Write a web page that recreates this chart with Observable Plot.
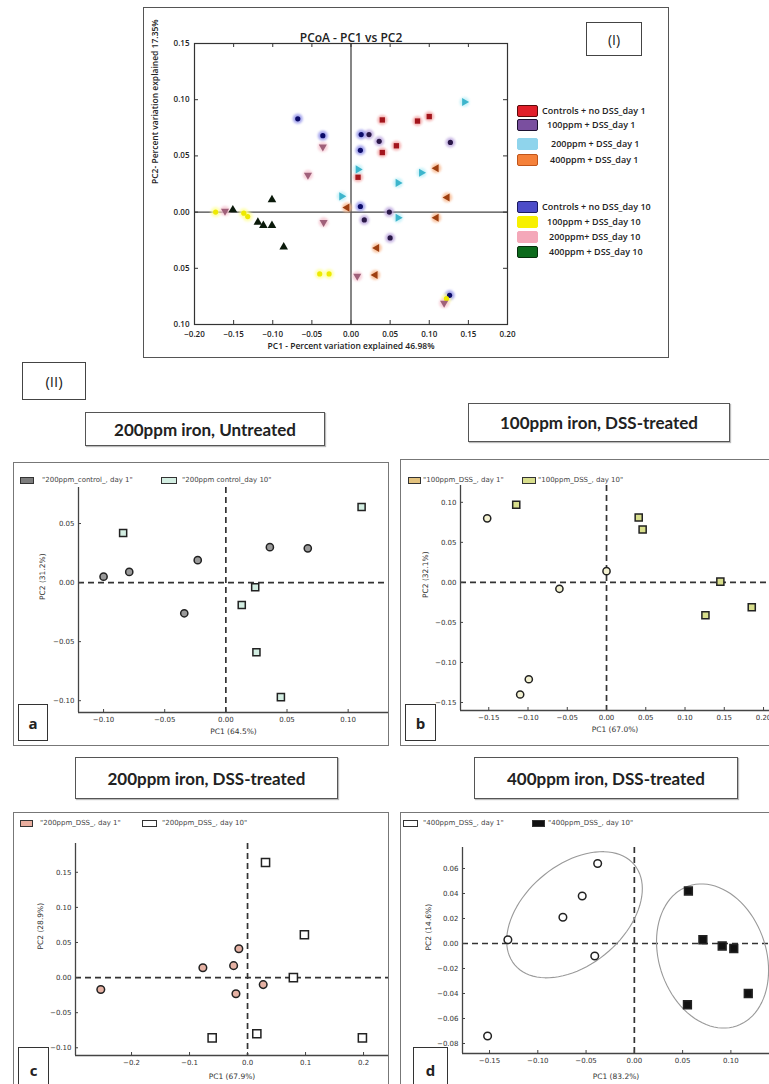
<!DOCTYPE html>
<html>
<head>
<meta charset="utf-8">
<script src="https://cdn.jsdelivr.net/npm/d3@7"></script>
<script src="https://cdn.jsdelivr.net/npm/@observablehq/plot@0.6"></script>
<style>
html,body{margin:0;padding:0;background:#fff;}
body{position:relative;width:769px;height:1084px;overflow:hidden;font-family:"Open Sans",sans-serif;}
.abs{position:absolute;box-sizing:border-box;}
.plot svg{display:block;max-width:none !important;background:transparent !important;overflow:visible;}
.halo{filter:blur(0.8px);}
</style>
</head>
<body>
<script>
// ================= DATA =================
// ---- Panel (I): PCoA PC1 vs PC2 ----
const pcoaTitle = "PCoA - PC1 vs PC2";
const pcoaXLabel = "PC1 - Percent variation explained 46.98%";
const pcoaYLabel = "PC2- Percent variation explained 17.35%";
const pcoaXTicks = [-0.20,-0.15,-0.10,-0.05,0.00,0.05,0.10,0.15,0.20];
const pcoaYTicks = [-0.10,-0.05,0.00,0.05,0.10,0.15];
const pcoaGroupLabels = [
  "Controls + no DSS_day 1","100ppm + DSS_day 1","200ppm + DSS_day 1","400ppm + DSS_day 1",
  "Controls + no DSS_day 10","100ppm + DSS_day 10","200ppm+ DSS_day 10","400ppm + DSS_day 10"
];
const ctrlDay1   = [[0.040,0.082],[0.058,0.059],[0.085,0.081],[0.100,0.085],[0.040,0.053],[0.009,0.031]];
const fe100Day1  = [[0.023,0.069],[0.036,0.063],[0.049,0.000],[0.017,-0.007],[0.050,-0.023],[0.127,0.062]];
const fe200Day1  = [[0.145,0.098],[0.009,0.038],[0.090,0.035],[0.060,0.026],[-0.012,0.014],[0.060,-0.005]];
const fe400Day1  = [[0.109,0.039],[0.123,0.013],[-0.005,0.004],[0.109,-0.005],[0.033,-0.032],[0.031,-0.056]];
const ctrlDay10  = [[-0.068,0.083],[-0.036,0.068],[0.013,0.069],[0.012,0.055],[0.012,0.005],[0.126,-0.074]];
const fe100Day10 = [[-0.040,-0.055],[-0.028,-0.055],[-0.173,0.000],[-0.137,-0.001],[-0.132,-0.004],[0.122,-0.077]];
const fe200Day10 = [[-0.036,0.058],[-0.055,0.033],[-0.035,-0.009],[0.008,-0.057],[-0.161,0.001],[0.119,-0.081]];
const fe400Day10 = [[-0.101,0.011],[-0.151,0.002],[-0.119,-0.009],[-0.112,-0.012],[-0.101,-0.012],[-0.086,-0.031]];

// ---- Panel a ----
const aTitle = "200ppm iron, Untreated";
const aLegend = ['"200ppm_control_, day 1"', '"200ppm control_day 10"'];
const aDay1  = [[-0.100,0.005],[-0.079,0.009],[-0.023,0.019],[-0.034,-0.026],[0.036,0.030],[0.067,0.029]];
const aDay10 = [[-0.084,0.042],[0.111,0.064],[0.024,-0.004],[0.013,-0.019],[0.025,-0.059],[0.045,-0.097]];
const aXTicks = [-0.10,-0.05,0.00,0.05,0.10];
const aYTicks = [-0.10,-0.05,0.00,0.05];
const aXLabel = "PC1 (64.5%)", aYLabel = "PC2 (31.2%)";

// ---- Panel b ----
const bTitle = "100ppm iron, DSS-treated";
const bLegend = ['"100ppm_DSS_, day 1"', '"100ppm_DSS_, day 10"'];
const bDay1  = [[-0.152,0.080],[-0.060,-0.008],[0.000,0.014],[-0.099,-0.121],[-0.110,-0.140]];
const bDay10 = [[-0.115,0.097],[0.041,0.081],[0.046,0.066],[0.145,0.001],[0.126,-0.041],[0.185,-0.031]];
const bXTicks = [-0.15,-0.10,-0.05,0.00,0.05,0.10,0.15,0.20];
const bYTicks = [-0.15,-0.10,-0.05,0.00,0.05,0.10];
const bXLabel = "PC1 (67.0%)", bYLabel = "PC2 (32.1%)";

// ---- Panel c ----
const cTitle = "200ppm iron, DSS-treated";
const cLegend = ['"200ppm_DSS_, day 1"', '"200ppm_DSS_, day 10"'];
const cDay1  = [[-0.253,-0.017],[-0.077,0.014],[-0.024,0.017],[-0.015,0.041],[-0.020,-0.023],[0.027,-0.010]];
const cDay10 = [[0.031,0.164],[0.098,0.061],[0.079,0.000],[-0.061,-0.086],[0.016,-0.080],[0.198,-0.086]];
const cXTicks = [-0.2,-0.1,0.0,0.1,0.2];
const cYTicks = [-0.10,-0.05,0.00,0.05,0.10,0.15];
const cXLabel = "PC1 (67.9%)", cYLabel = "PC2 (28.9%)";

// ---- Panel d ----
const dTitle = "400ppm iron, DSS-treated";
const dLegend = ['"400ppm_DSS_, day 1"', '"400ppm_DSS_, day 10"'];
const dDay1  = [[-0.131,0.003],[-0.074,0.021],[-0.041,-0.010],[-0.152,-0.074],[-0.038,0.064],[-0.054,0.038]];
const dDay10 = [[0.056,0.042],[0.071,0.003],[0.091,-0.002],[0.103,-0.004],[0.118,-0.040],[0.055,-0.049]];
const dXTicks = [-0.15,-0.10,-0.05,0.00,0.05,0.10];
const dYTicks = [-0.08,-0.06,-0.04,-0.02,0.00,0.02,0.04,0.06];
const dXLabel = "PC1 (83.2%)", dYLabel = "PC2 (14.6%)";
const dEllipseCenters = [[-0.062,0.023],[0.081,-0.010]];

// ================= HELPERS =================
function div(left, top, w, h, css = {}, html = "") {
  const d = document.createElement("div");
  d.className = "abs";
  d.style.left = left + "px"; d.style.top = top + "px";
  if (w != null) d.style.width = w + "px";
  if (h != null) d.style.height = h + "px";
  Object.assign(d.style, css);
  d.innerHTML = html;
  document.body.appendChild(d);
  return d;
}
const fmt = (k, sign = true) => d => ((d < 0 && sign) ? "\u2212" : "") + Math.abs(d).toFixed(k);
const toPts = arr => arr.map(([x, y]) => ({x, y}));

function tri(angleDeg) {
  return {draw(ctx, size) {
    const r = Math.sqrt(size / (3 * Math.sqrt(3) / 4));
    for (let i = 0; i < 3; i++) {
      const a = (angleDeg + i * 120) * Math.PI / 180;
      const x = r * Math.cos(a), y = r * Math.sin(a);
      if (i) ctx.lineTo(x, y); else ctx.moveTo(x, y);
    }
    ctx.closePath();
  }};
}
const triRight = tri(0), triLeft = tri(180), triDown = tri(90), triUp = tri(-90);

function place(svg, left, top, w, h) {
  const host = div(left, top, w, h);
  host.className = "abs plot";
  host.appendChild(svg);
}

// ================= PANEL (I) =================
div(143, 7, 526, 351, {border: "1.5px solid #555"});
div(586, 22, 56, 34, {border: "1.5px solid #444", display: "flex", alignItems: "center", justifyContent: "center", font: "500 14px 'Open Sans'", color: "#222"}, "(I)");

const pcoaSeries = [ctrlDay1, fe100Day1, fe200Day1, fe400Day1, ctrlDay10, fe100Day10, fe200Day10, fe400Day10];
const pcoaStyles = [
  {sym: "square",   r: 3.0, core: "#a3151c", halo: "#f2a0a0", swatch: "#e11f2a", border: "#5a0a0a"},
  {sym: "circle",   r: 2.6, core: "#2a1848", halo: "#b9a3dc", swatch: "#7a4f9f", border: "#1c1030"},
  {sym: triRight,   r: 3.0, core: "#3cb5cc", halo: "#bdeff7", swatch: "#8fd4ec", border: "#8fd4ec"},
  {sym: triLeft,    r: 3.0, core: "#9e3f10", halo: "#f8b689", swatch: "#f5813a", border: "#c0551a"},
  {sym: "circle",   r: 2.6, core: "#0c0c6a", halo: "#8e8ee8", swatch: "#4c4cc9", border: "#1a1a60"},
  {sym: "circle",   r: 2.6, core: "#eeea00", halo: "#ffff9a", swatch: "#f7f000", border: "#f7f000"},
  {sym: triDown,    r: 3.0, core: "#a0607a", halo: "#f5c3cf", swatch: "#f4a8b9", border: "#f4a8b9"},
  {sym: triUp,      r: 3.2, core: "#0b1a0b", halo: null,      swatch: "#0c6a1c", border: "#06300c"}
];
{
  const W = 526, H = 351, ml = 51, mr = 162, mt = 36, mb = 34;
  const fw = W - ml - mr, fh = H - mt - mb;
  const marks = [
    Plot.ruleX([0], {stroke: "#444", strokeWidth: 1.3}),
    Plot.ruleY([0], {stroke: "#444", strokeWidth: 1.3}),
    Plot.frame({stroke: "#333", strokeWidth: 1.2}),
    Plot.tickX(pcoaXTicks, {x: d => d, insetTop: fh - 4, stroke: "#333"}),
    Plot.tickX(pcoaXTicks, {x: d => d, insetBottom: fh - 4, stroke: "#333"}),
    Plot.tickY(pcoaYTicks, {y: d => d, insetRight: fw - 4, stroke: "#333"}),
    Plot.tickY(pcoaYTicks, {y: d => d, insetLeft: fw - 4, stroke: "#333"}),
    Plot.axisX({ticks: pcoaXTicks, tickSize: 0, tickPadding: 7, tickFormat: fmt(2), label: null, fontWeight: 600}),
    Plot.axisY({ticks: pcoaYTicks, tickSize: 0, tickPadding: 5, tickFormat: fmt(2, false), label: null, fontWeight: 600}),
    Plot.text([pcoaTitle], {text: d => d, frameAnchor: "top", dy: -10, fontSize: 12, fontWeight: 600, fill: "#222"}),
    Plot.text([pcoaXLabel], {text: d => d, frameAnchor: "bottom", dy: 24, fontSize: 8.5, fontWeight: 600, fill: "#222"}),
    Plot.text([pcoaYLabel], {text: d => d, frameAnchor: "left", dx: -39, rotate: -90, fontSize: 8.5, fontWeight: 600, fill: "#222"})
  ];
  pcoaSeries.forEach((s, i) => {
    const st = pcoaStyles[i];
    if (st.halo) marks.push(Plot.dot(toPts(s), {x: "x", y: "y", r: 5, fill: st.halo, fillOpacity: 0.75, className: "halo"}));
  });
  pcoaSeries.forEach((s, i) => {
    const st = pcoaStyles[i];
    marks.push(Plot.dot(toPts(s), {x: "x", y: "y", r: st.r, symbol: st.sym, fill: st.core}));
  });
  const svg = Plot.plot({
    width: W, height: H, marginLeft: ml, marginRight: mr, marginTop: mt, marginBottom: mb,
    x: {domain: [-0.2, 0.2]}, y: {domain: [-0.1, 0.15]},
    style: {fontFamily: "'Open Sans', sans-serif", fontSize: "8px", color: "#222"},
    marks
  });
  place(svg, 143, 7, W, H);

  // legend
  const rows = [111, 125, 144, 160, 207, 222, 237, 252];
  const indent = [0, 5, 9, 8, 0, 5, 7, 7];
  pcoaGroupLabels.forEach((lab, i) => {
    const st = pcoaStyles[i];
    div(517, rows[i] - 6, 21, 12, {background: st.swatch, border: "1.2px solid " + st.border, borderRadius: "2px"});
    div(542 + indent[i], rows[i] - 8, 130, 16, {font: "600 9px 'Open Sans'", color: "#222", lineHeight: "16px", whiteSpace: "nowrap"}, lab);
  });
}

// ================= (II) =================
div(22, 362, 64, 38, {border: "1.5px solid #444", display: "flex", alignItems: "center", justifyContent: "center", font: "500 15px 'Open Sans'", color: "#222"}, "(II)");

// ================= PANELS a-d =================
function titleBox(x, y, w, h, text) {
  div(x, y, w, h, {border: "1.5px solid #555", display: "flex", alignItems: "center", justifyContent: "center",
    font: "700 17px Lato", color: "#222", background: "#fff", boxShadow: "1px 1px 1px #bbb"}, text);
}
function legendRow(y, items) {
  items.forEach(it => {
    div(it.sx, y - 3, it.sw, 7, {background: it.fill, border: "1.5px solid #333"});
    div(it.tx, y - 7, 140, 14, {font: "7px 'DejaVu Sans'", color: "#444", lineHeight: "14px", whiteSpace: "nowrap"}, it.text);
  });
}
function letterBox(x, y, w, h, t) {
  div(x, y, w, h, {border: "1.5px solid #333", display: "flex", alignItems: "center", justifyContent: "center",
    font: "700 15px 'Open Sans'", color: "#222", background: "#fff"}, t);
}

function scatterPanel(cfg) {
  const fw = cfg.W - cfg.ml - cfg.mr, fh = cfg.H - cfg.mt - cfg.mb;
  const marks = [
    Plot.ruleX([0], {stroke: "#333", strokeWidth: 1.7, strokeDasharray: "6,4"}),
    Plot.ruleY([0], {stroke: "#333", strokeWidth: 1.7, strokeDasharray: "6,4"}),
    Plot.ruleX([cfg.xDomain[0]], {stroke: "#444", strokeWidth: 1.3}),
    Plot.ruleY([cfg.yDomain[0]], {stroke: "#444", strokeWidth: 1.3}),
    Plot.tickX(cfg.xTicks, {x: d => d, insetTop: fh - 3, stroke: "#444"}),
    Plot.tickY(cfg.yTicks, {y: d => d, insetRight: fw - 3, stroke: "#444"}),
    Plot.axisX({ticks: cfg.xTicks, tickSize: 0, tickPadding: 5, tickFormat: cfg.xFmt, label: null}),
    Plot.axisY({ticks: cfg.yTicks, tickSize: 0, tickPadding: 4, tickFormat: cfg.yFmt, label: null}),
    Plot.text([cfg.xLabel], {text: d => d, frameAnchor: "bottom", dy: cfg.xLabDy, fontSize: 7.5, fill: "#333"}),
    Plot.text([cfg.yLabel], {text: d => d, frameAnchor: "left", dx: -cfg.yLabDx, rotate: -90, fontSize: 7.5, fill: "#333"}),
    ...(cfg.extra ? cfg.extra(fw, fh) : []),
    Plot.dot(toPts(cfg.day1), {x: "x", y: "y", symbol: cfg.s1.symbol, r: cfg.s1.r, fill: cfg.s1.fill, stroke: "#222", strokeWidth: 1.5}),
    Plot.dot(toPts(cfg.day10), {x: "x", y: "y", symbol: cfg.s10.symbol, r: cfg.s10.r, fill: cfg.s10.fill, stroke: "#222", strokeWidth: 1.5})
  ];
  const svg = Plot.plot({
    width: cfg.W, height: cfg.H, marginLeft: cfg.ml, marginRight: cfg.mr, marginTop: cfg.mt, marginBottom: cfg.mb,
    x: {domain: cfg.xDomain}, y: {domain: cfg.yDomain},
    style: {fontFamily: "'DejaVu Sans', sans-serif", fontSize: "7px", color: "#333"},
    marks
  });
  place(svg, cfg.left, cfg.top, cfg.W, cfg.H);
}

// ---- a ----
div(13, 462, 376, 284, {border: "1.5px solid #777"});
titleBox(85, 412, 240, 34, aTitle);
legendRow(480, [
  {sx: 20, sw: 14, fill: "#7d7d7d", tx: 42, text: aLegend[0]},
  {sx: 161, sw: 16, fill: "#d3eee2", tx: 182, text: aLegend[1]}
]);
scatterPanel({left: 13, top: 462, W: 375, H: 283, ml: 65, mr: 0, mt: 25, mb: 33,
  xDomain: [-0.1205, 0.133], yDomain: [-0.110, 0.0805], xTicks: aXTicks, yTicks: aYTicks,
  xFmt: fmt(2), yFmt: fmt(2), xLabel: aXLabel, yLabel: aYLabel, xLabDy: 21, yLabDx: 36,
  day1: aDay1, day10: aDay10,
  s1: {symbol: "circle", r: 3.6, fill: "#9a9a9a"}, s10: {symbol: "square", r: 4, fill: "#d3eee2"}});
letterBox(18, 704, 30, 37, "a");

// ---- b ----
div(400, 459, 380, 287, {border: "1.5px solid #777"});
titleBox(468, 403, 262, 39, bTitle);
legendRow(480, [
  {sx: 408, sw: 13, fill: "#e3c27e", tx: 423, text: bLegend[0]},
  {sx: 522, sw: 14, fill: "#d8de8c", tx: 538, text: bLegend[1]}
]);
scatterPanel({left: 400, top: 459, W: 369, H: 286, ml: 60, mr: 0, mt: 26, mb: 35,
  xDomain: [-0.186, 0.2076], yDomain: [-0.16, 0.121], xTicks: bXTicks, yTicks: bYTicks,
  xFmt: fmt(2), yFmt: fmt(2), xLabel: bXLabel, yLabel: bYLabel, xLabDy: 21, yLabDx: 35,
  day1: bDay1, day10: bDay10,
  s1: {symbol: "circle", r: 3.6, fill: "#f4f2d2"}, s10: {symbol: "square", r: 4, fill: "#d8de8c"}});
letterBox(405, 704, 31, 37, "b");

// ---- c ----
div(13, 812, 376, 290, {border: "1.5px solid #777"});
titleBox(75, 757, 263, 42, cTitle);
legendRow(823, [
  {sx: 20, sw: 13, fill: "#e8ad9e", tx: 40, text: cLegend[0]},
  {sx: 142, sw: 15, fill: "#ffffff", tx: 162, text: cLegend[1]}
]);
scatterPanel({left: 13, top: 812, W: 375, H: 272, ml: 62, mr: 0, mt: 31, mb: 29,
  xDomain: [-0.2966, 0.243], yDomain: [-0.111, 0.191], xTicks: cXTicks, yTicks: cYTicks,
  xFmt: fmt(1), yFmt: fmt(2), xLabel: cXLabel, yLabel: cYLabel, xLabDy: 23, yLabDx: 35,
  day1: cDay1, day10: cDay10,
  s1: {symbol: "circle", r: 3.8, fill: "#e6b2a4"}, s10: {symbol: "square", r: 4.6, fill: "#ffffff"}});
letterBox(18, 1047, 31, 45, "c");

// ---- d ----
div(400, 812, 380, 290, {border: "1.5px solid #777"});
titleBox(474, 757, 264, 42, dTitle);
legendRow(823, [
  {sx: 403, sw: 15, fill: "#ffffff", tx: 423, text: dLegend[0]},
  {sx: 532, sw: 13, fill: "#111111", tx: 548, text: dLegend[1]}
]);
// ellipse geometry (screen pixels): semi-axes and tilt
const dEllipseShape = [{a: 78, b: 50, angle: 40}, {a: 74, b: 53.5, angle: -71}];
scatterPanel({left: 400, top: 812, W: 369, H: 272, ml: 62, mr: 0, mt: 35, mb: 31,
  xDomain: [-0.178, 0.140], yDomain: [-0.088, 0.0768], xTicks: dXTicks, yTicks: dYTicks,
  xFmt: fmt(2), yFmt: fmt(2), xLabel: dXLabel, yLabel: dYLabel, xLabDy: 25, yLabDx: 34,
  day1: dDay1, day10: dDay10,
  s1: {symbol: "circle", r: 3.8, fill: "#ffffff"}, s10: {symbol: "square", r: 4.4, fill: "#111111"},
  extra: (fw, fh) => {
    const kx = fw / (0.140 + 0.178), ky = fh / (0.0768 + 0.088);
    const pts = [];
    dEllipseCenters.forEach(([cx, cy], id) => {
      const {a, b, angle} = dEllipseShape[id];
      const th = angle * Math.PI / 180;
      for (let t = 0; t <= 360; t += 4) {
        const u = t * Math.PI / 180;
        const dx = a * Math.cos(u) * Math.cos(th) - b * Math.sin(u) * Math.sin(th);
        const dy = a * Math.cos(u) * Math.sin(th) + b * Math.sin(u) * Math.cos(th);
        pts.push({id, x: cx + dx / kx, y: cy + dy / ky});
      }
    });
    return [Plot.line(pts, {x: "x", y: "y", z: "id", stroke: "#999", strokeWidth: 1.1})];
  }});
letterBox(413, 1047, 35, 45, "d");
</script>
</body>
</html>
